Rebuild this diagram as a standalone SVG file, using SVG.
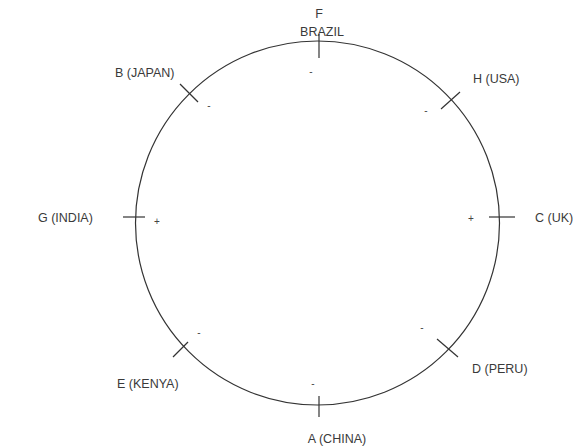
<svg xmlns="http://www.w3.org/2000/svg" width="584" height="447" viewBox="0 0 584 447">
<style>
.lbl{font-family:"Liberation Sans",Arial,sans-serif;font-size:12.5px;fill:#3a3a3a}
.sgn{font-family:"Liberation Sans",Arial,sans-serif;font-size:10px;fill:#444}
.ln{stroke:#333;stroke-width:1.2;fill:none}
</style>
<rect width="584" height="447" fill="#fff"/>
<g id="ring"><circle class="ln" cx="317.5" cy="223" r="182"/></g>
<g id="connectors">
<line class="ln" x1="319" y1="34" x2="319" y2="58"/>
<line class="ln" x1="180" y1="84" x2="198" y2="102"/>
<line class="ln" x1="441" y1="109" x2="460" y2="92"/>
<line class="ln" x1="123" y1="217" x2="145" y2="217"/>
<line class="ln" x1="489" y1="217" x2="515" y2="217"/>
<line class="ln" x1="173" y1="357" x2="188" y2="342"/>
<line class="ln" x1="437" y1="339" x2="458" y2="357"/>
<line class="ln" x1="319" y1="396" x2="319" y2="417"/>
</g>
<g id="F"><text class="lbl" x="319" y="18" text-anchor="middle">F</text><text class="lbl" x="322" y="36" text-anchor="middle">BRAZIL</text><text class="sgn" x="311" y="75" text-anchor="middle">-</text></g>
<g id="B"><text class="lbl" x="115" y="77">B (JAPAN)</text><text class="sgn" x="209" y="109" text-anchor="middle">-</text></g>
<g id="H"><text class="lbl" x="473" y="83">H (USA)</text><text class="sgn" x="426" y="114" text-anchor="middle">-</text></g>
<g id="G"><text class="lbl" x="38" y="222">G (INDIA)</text><text class="sgn" x="157" y="225" text-anchor="middle">+</text></g>
<g id="C"><text class="lbl" x="535" y="222">C (UK)</text><text class="sgn" x="471" y="222" text-anchor="middle">+</text></g>
<g id="E"><text class="lbl" x="117" y="388">E (KENYA)</text><text class="sgn" x="199" y="336" text-anchor="middle">-</text></g>
<g id="D"><text class="lbl" x="472" y="373">D (PERU)</text><text class="sgn" x="422" y="331" text-anchor="middle">-</text></g>
<g id="A"><text class="lbl" x="337" y="443" text-anchor="middle">A (CHINA)</text><text class="sgn" x="313" y="387" text-anchor="middle">-</text></g>
</svg>
